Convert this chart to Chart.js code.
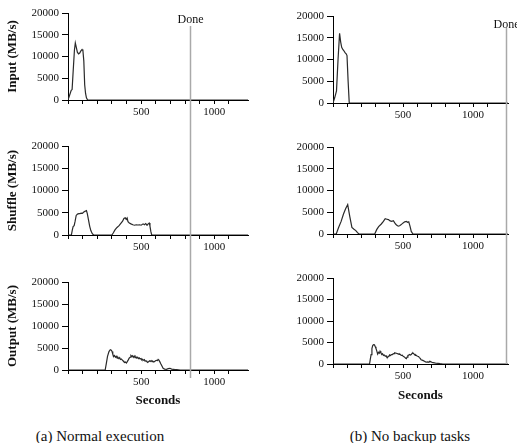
<!DOCTYPE html>
<html>
<head>
<meta charset="utf-8">
<script src="https://cdn.jsdelivr.net/npm/chart.js@4"></script>
<style>
  body { margin: 0; background: #fff; width: 517px; height: 443px; position: relative; overflow: hidden; font-family: 'Liberation Serif', serif; }
  canvas { position: absolute; }
  .cap { position: absolute; top: 427px; height: 18px; line-height: 18px; font-size: 15px; text-align: center; white-space: nowrap; color: #111; }
</style>
</head>
<body>
<canvas id="inNormal" style="left:0;top:0" width="256" height="130"></canvas>
<canvas id="shNormal" style="left:0;top:130px" width="256" height="130"></canvas>
<canvas id="outNormal" style="left:0;top:260px" width="256" height="155"></canvas>
<canvas id="inNoBackup" style="left:256px;top:0" width="261" height="130"></canvas>
<canvas id="shNoBackup" style="left:256px;top:130px" width="261" height="130"></canvas>
<canvas id="outNoBackup" style="left:256px;top:260px" width="261" height="155"></canvas>
<div class="cap" style="left:20px;width:160px">(a) Normal execution</div>
<div class="cap" style="left:330px;width:160px">(b) No backup tasks</div>

<script>
// y ticks (MB/s) and labelled x ticks (seconds)
const rateTicks = [0, 5000, 10000, 15000, 20000];
const labelledSeconds = [500, 1000];
const doneNormal = 835;
const doneNoBackup = 1235;

// (a) normal execution
const inputNormalT = [0, 12, 22, 28, 36, 44, 50, 56, 64, 72, 80, 88, 96, 102, 108, 114, 120, 126, 134, 1230];
const inputNormalV = [0, 1200, 2200, 2400, 7000, 11500, 13100, 12200, 11000, 10600, 10800, 11300, 11600, 11300, 9000, 3500, 1500, 500, 0, 0];

const shuffleNormalT = [0, 23, 30, 35, 42, 48, 56, 65, 74, 82, 90, 98, 106, 116, 126, 132, 140, 148, 156, 166, 175,
  300, 310, 321, 335, 349, 361, 373, 382, 391, 398, 404, 410, 419, 430, 443, 455, 466, 478, 489, 500, 513, 522, 531, 540, 548, 555, 560, 566, 572, 1230];
const shuffleNormalV = [0, 0, 1200, 1900, 2100, 3000, 4400, 4700, 4800, 4800, 4900, 4850, 5100, 5350, 5500, 4800, 3400, 2000, 1000, 300, 0,
  0, 500, 1150, 1700, 2100, 2600, 3100, 3700, 3850, 3500, 3800, 3000, 2700, 2500, 2300, 2200, 2300, 2250, 2300, 2200, 2500, 2300, 2550, 2200, 2500, 2700, 2000, 800, 0, 0];

const outputNormalT = [0, 254, 262, 270, 280, 289, 296, 301, 306, 312, 318, 324, 330, 336, 341, 347, 353, 358, 364, 370,
  376, 381, 387, 393, 399, 405, 412, 418, 424, 430, 436, 440, 446, 452, 458, 464, 470, 476, 481, 487,
  493, 499, 505, 510, 516, 522, 527, 533, 539, 545, 551, 557, 562, 568, 574, 580, 586, 592, 598, 604,
  611, 616, 620, 627, 634, 642, 650, 660, 673, 685, 697, 708, 720, 732, 743, 755, 767, 1230];
const outputNormalV = [0, 0, 1500, 3100, 4200, 4600, 4500, 4200, 3600, 3100, 3300, 2900, 3100, 2700, 2900, 2600, 2800, 2400, 2500, 2300,
  2100, 1900, 1700, 1800, 1600, 1900, 2300, 2700, 2900, 3300, 3100, 3250, 2900, 3200, 2800, 3000, 2700, 2900, 2600, 2750,
  2500, 2600, 2300, 2400, 2200, 2350, 2000, 2100, 1900, 1700, 1900, 2100, 1950, 2150, 1900, 2000, 1800, 1950, 2100, 2200,
  2150, 2400, 2300, 1900, 1400, 900, 400, 200, 150, 300, 380, 200, 150, 100, 80, 40, 0, 0];

// (b) no backup tasks
const inputNoBackupT = [0, 12, 25, 36, 47, 55, 62, 70, 78, 86, 94, 100, 108, 116, 1250];
const inputNoBackupV = [0, 1200, 2800, 10000, 16000, 14000, 12800, 12300, 12000, 11600, 11300, 10900, 5000, 0, 0];

const shuffleNoBackupT = [0, 23, 40, 58, 75, 90, 105, 120, 135, 150, 163, 175, 186,
  298, 312, 326, 345, 360, 373, 385, 396, 408, 420, 431, 440, 447, 456, 466, 476, 485, 501, 512, 524, 533, 541, 550, 559, 571, 1250];
const shuffleNoBackupV = [0, 0, 1500, 2900, 4600, 5800, 6750, 4000, 1500, 1100, 770, 300, 0,
  0, 1000, 1700, 2300, 2900, 3500, 3400, 3300, 3000, 2900, 3050, 2600, 2300, 2000, 1800, 1900, 2100, 2550, 2800, 2900, 2700, 2800, 1800, 600, 0, 0];

const outputNoBackupT = [0, 261, 266, 272, 278, 284, 290, 296, 302, 307, 313, 319, 325, 331, 336, 342, 348, 354, 360, 366,
  373, 379, 384, 389, 395, 400, 405, 412, 418, 424, 430, 436, 441, 447, 453, 459, 466, 472, 478, 484,
  489, 495, 501, 507, 513, 519, 524, 529, 535, 541, 547, 553, 559, 565, 571, 576, 582, 588, 592, 598,
  604, 611, 617, 623, 629, 637, 645, 653, 661, 669, 677, 685, 692, 700, 708, 715, 725, 735, 750, 765, 785, 1250];
const outputNoBackupV = [0, 0, 1000, 2200, 3600, 4350, 4500, 4450, 4000, 3600, 3000, 2300, 2700, 2500, 2950, 2600, 2200, 2400, 2000, 2100,
  1800, 1900, 1600, 1500, 1700, 1900, 2100, 2000, 2200, 2200, 2350, 2400, 2600, 2550, 2500, 2400, 2350, 2250, 2300, 2100,
  2000, 2050, 1800, 1700, 1550, 1350, 1250, 1600, 2000, 2050, 2200, 2100, 2200, 2450, 2560, 2400, 2200, 2000, 2100, 1900,
  1800, 1750, 1500, 1300, 1000, 900, 780, 650, 500, 420, 470, 400, 620, 500, 350, 310, 250, 180, 160, 80, 0, 0];

const serif = 'Liberation Serif';

// vertical "Done" marker, drawn over several stacked canvases
const doneLine = {
  id: 'doneLine',
  afterDraw(chart, args, opts) {
    const ctx = chart.ctx;
    const x = Math.round(chart.scales.x.getPixelForValue(opts.value)) + 0.5;
    ctx.save();
    ctx.strokeStyle = '#a9a9a9';
    ctx.lineWidth = 1.5;
    ctx.beginPath();
    ctx.moveTo(x, opts.top);
    ctx.lineTo(x, opts.bottom);
    ctx.stroke();
    if (opts.label) {
      ctx.fillStyle = '#111';
      ctx.font = `12px ${serif}`;
      ctx.textAlign = 'center';
      ctx.textBaseline = 'middle';
      ctx.fillText('Done', x, opts.labelY);
    }
    ctx.restore();
  }
};

function makePanel(id, cfg) {
  const points = cfg.t.map((t, i) => ({ x: t, y: cfg.v[i] }));
  return new Chart(document.getElementById(id), {
    type: 'line',
    data: {
      datasets: [{
        data: points,
        borderColor: '#2a2a2a',
        borderWidth: 1.2,
        pointRadius: 0,
        tension: 0,
        fill: false
      }]
    },
    options: {
      responsive: false,
      animation: false,
      events: [],
      layout: { padding: { top: cfg.padTop, right: cfg.padRight, left: 0, bottom: 0 } },
      plugins: {
        legend: { display: false },
        tooltip: { enabled: false },
        doneLine: cfg.done
      },
      scales: {
        x: {
          type: 'linear',
          min: 0,
          max: cfg.xMax,
          afterFit: (s) => { s.height = cfg.xHeight; },
          afterBuildTicks: (s) => { s.ticks = s.ticks.filter((t) => t.value % 100 === 0); },
          border: { display: true, color: '#000', width: 1 },
          grid: { display: true, drawOnChartArea: false, drawTicks: true, tickLength: 4, color: '#000' },
          ticks: {
            stepSize: 100,
            autoSkip: false,
            maxRotation: 0,
            padding: 2,
            color: '#111',
            font: { family: serif, size: 11 },
            callback: (v) => (labelledSeconds.includes(v) ? String(v) : '')
          },
          title: {
            display: !!cfg.xTitle,
            text: 'Seconds',
            color: '#111',
            font: { family: serif, size: 13, weight: 'bold' },
            padding: { top: 0, bottom: cfg.xTitlePad || 0 }
          }
        },
        y: {
          min: 0,
          max: 20000,
          afterFit: (s) => { s.width = cfg.yWidth; },
          afterBuildTicks: (s) => { s.ticks = rateTicks.map((v) => ({ value: v })); },
          border: { display: true, color: '#000', width: 1 },
          grid: { display: true, drawOnChartArea: false, drawTicks: true, tickLength: 6, color: '#000' },
          ticks: {
            padding: 3,
            color: '#111',
            font: { family: serif, size: 11 },
            callback: (v) => String(v)
          },
          title: {
            display: !!cfg.yTitle,
            text: cfg.yTitle || '',
            color: '#111',
            font: { family: serif, size: 13, weight: 'bold' },
            padding: { top: 5, bottom: 0 }
          }
        }
      }
    },
    plugins: [doneLine]
  });
}

makePanel('inNormal', {
  t: inputNormalT, v: inputNormalV, xMax: 1230, yWidth: 68, padTop: 13, padRight: 8, xHeight: 30,
  yTitle: 'Input (MB/s)',
  done: { value: doneNormal, top: 26, bottom: 130, label: true, labelY: 20 }
});
makePanel('shNormal', {
  t: shuffleNormalT, v: shuffleNormalV, xMax: 1230, yWidth: 68, padTop: 16, padRight: 8, xHeight: 25,
  yTitle: 'Shuffle (MB/s)',
  done: { value: doneNormal, top: 0, bottom: 130 }
});
makePanel('outNormal', {
  t: outputNormalT, v: outputNormalV, xMax: 1230, yWidth: 68, padTop: 22, padRight: 8, xHeight: 45,
  yTitle: 'Output (MB/s)', xTitle: true, xTitlePad: 7,
  done: { value: doneNormal, top: 0, bottom: 118 }
});
makePanel('inNoBackup', {
  t: inputNoBackupT, v: inputNoBackupV, xMax: 1250, yWidth: 77, padTop: 16, padRight: 9, xHeight: 27,
  done: { value: doneNoBackup, top: 28, bottom: 130, label: true, labelY: 25 }
});
makePanel('shNoBackup', {
  t: shuffleNoBackupT, v: shuffleNoBackupV, xMax: 1250, yWidth: 77, padTop: 17, padRight: 9, xHeight: 26,
  done: { value: doneNoBackup, top: 0, bottom: 130 }
});
makePanel('outNoBackup', {
  t: outputNoBackupT, v: outputNoBackupV, xMax: 1250, yWidth: 77, padTop: 18, padRight: 9, xHeight: 51,
  xTitle: true, xTitlePad: 12,
  done: { value: doneNoBackup, top: 0, bottom: 104 }
});
</script>
</body>
</html>
